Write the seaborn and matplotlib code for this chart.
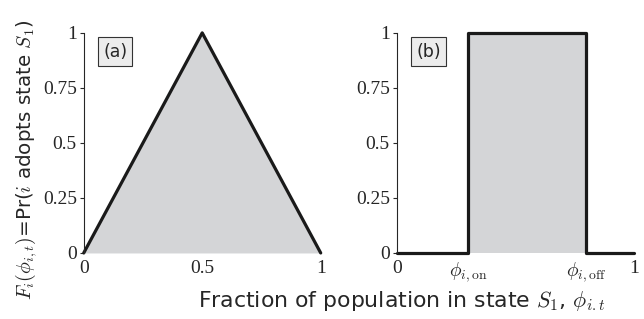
import numpy as np
import pandas as pd
import seaborn as sns
import matplotlib
matplotlib.use('Agg')
import matplotlib.pyplot as plt

# dados dos dois paineis
xa = [0, 0.5, 1]
ya = [0, 1, 0]
phi_on = 0.3
phi_off = 0.8
xb = [0, phi_on, phi_on, phi_off, phi_off, 1]
yb = [0, 0, 1, 1, 0, 0]
yticks = [0, 0.25, 0.5, 0.75, 1]
ytick_labels = ['0', '0.25', '0.5', '0.75', '1']
xticks_a = [0, 0.5, 1]
xlabels_a = ['0', '0.5', '1']
xticks_b = [0, phi_on, phi_off, 1]
xlabels_b = ['0', r'$\phi_{i,\mathrm{on}}$', r'$\phi_{i,\mathrm{off}}$', '1']

sns.set_style('ticks')
plt.rcParams['font.family'] = ['DejaVu Sans']
plt.rcParams['mathtext.fontset'] = 'cm'

fig = plt.figure(figsize=(6.44, 3.19), dpi=100)
ax1 = fig.add_axes([0.130, 0.207, 0.368, 0.690])
ax2 = fig.add_axes([0.616, 0.207, 0.368, 0.690])

cinza = '#d4d5d7'
dfa = pd.DataFrame({'x': xa, 'y': ya})
dfb = pd.DataFrame({'x': xb, 'y': yb})

for ax, df, xt, xl, letra in [(ax1, dfa, xticks_a, xlabels_a, '(a)'),
                             (ax2, dfb, xticks_b, xlabels_b, '(b)')]:
    ax.fill_between(df['x'], df['y'], 0, color=cinza, lw=0)
    sns.lineplot(data=df, x='x', y='y', ax=ax, color='#1a1a1a', lw=2.3,
                 sort=False, estimator=None, clip_on=False)
    ax.set_xlim(0, 1)
    ax.set_ylim(0, 1)
    ax.set_yticks(yticks)
    ax.set_yticklabels(ytick_labels, family='Liberation Serif', fontsize=14)
    ax.set_xticks(xt)
    ax.set_xticklabels(xl, family='Liberation Serif', fontsize=14)
    ax.tick_params(axis='x', length=0, pad=5)
    ax.tick_params(axis='y', length=3, width=0.8, pad=2)
    sns.despine(ax=ax, top=True, right=True, bottom=True)
    ax.spines['left'].set_linewidth(0.8)
    ax.set_xlabel('')
    ax.set_ylabel('')
    ax.text(0.082, 0.915, letra, transform=ax.transAxes, fontsize=12.5,
            va='center', ha='left',
            bbox=dict(boxstyle='square,pad=0.3', fc='#ececec', ec='#333333', lw=0.8))

fig.text(0.040, 0.5, r'$F_i(\phi_{i,t})$=Pr($i$ adopts state $S_1$)', rotation=90,
         ha='center', va='center', fontsize=14.3)
fig.text(0.624, 0.02, r'Fraction of population in state $S_1$, $\phi_{i.t}$',
         ha='center', va='bottom', fontsize=15.8)

plt.savefig('out.png', dpi=100)
